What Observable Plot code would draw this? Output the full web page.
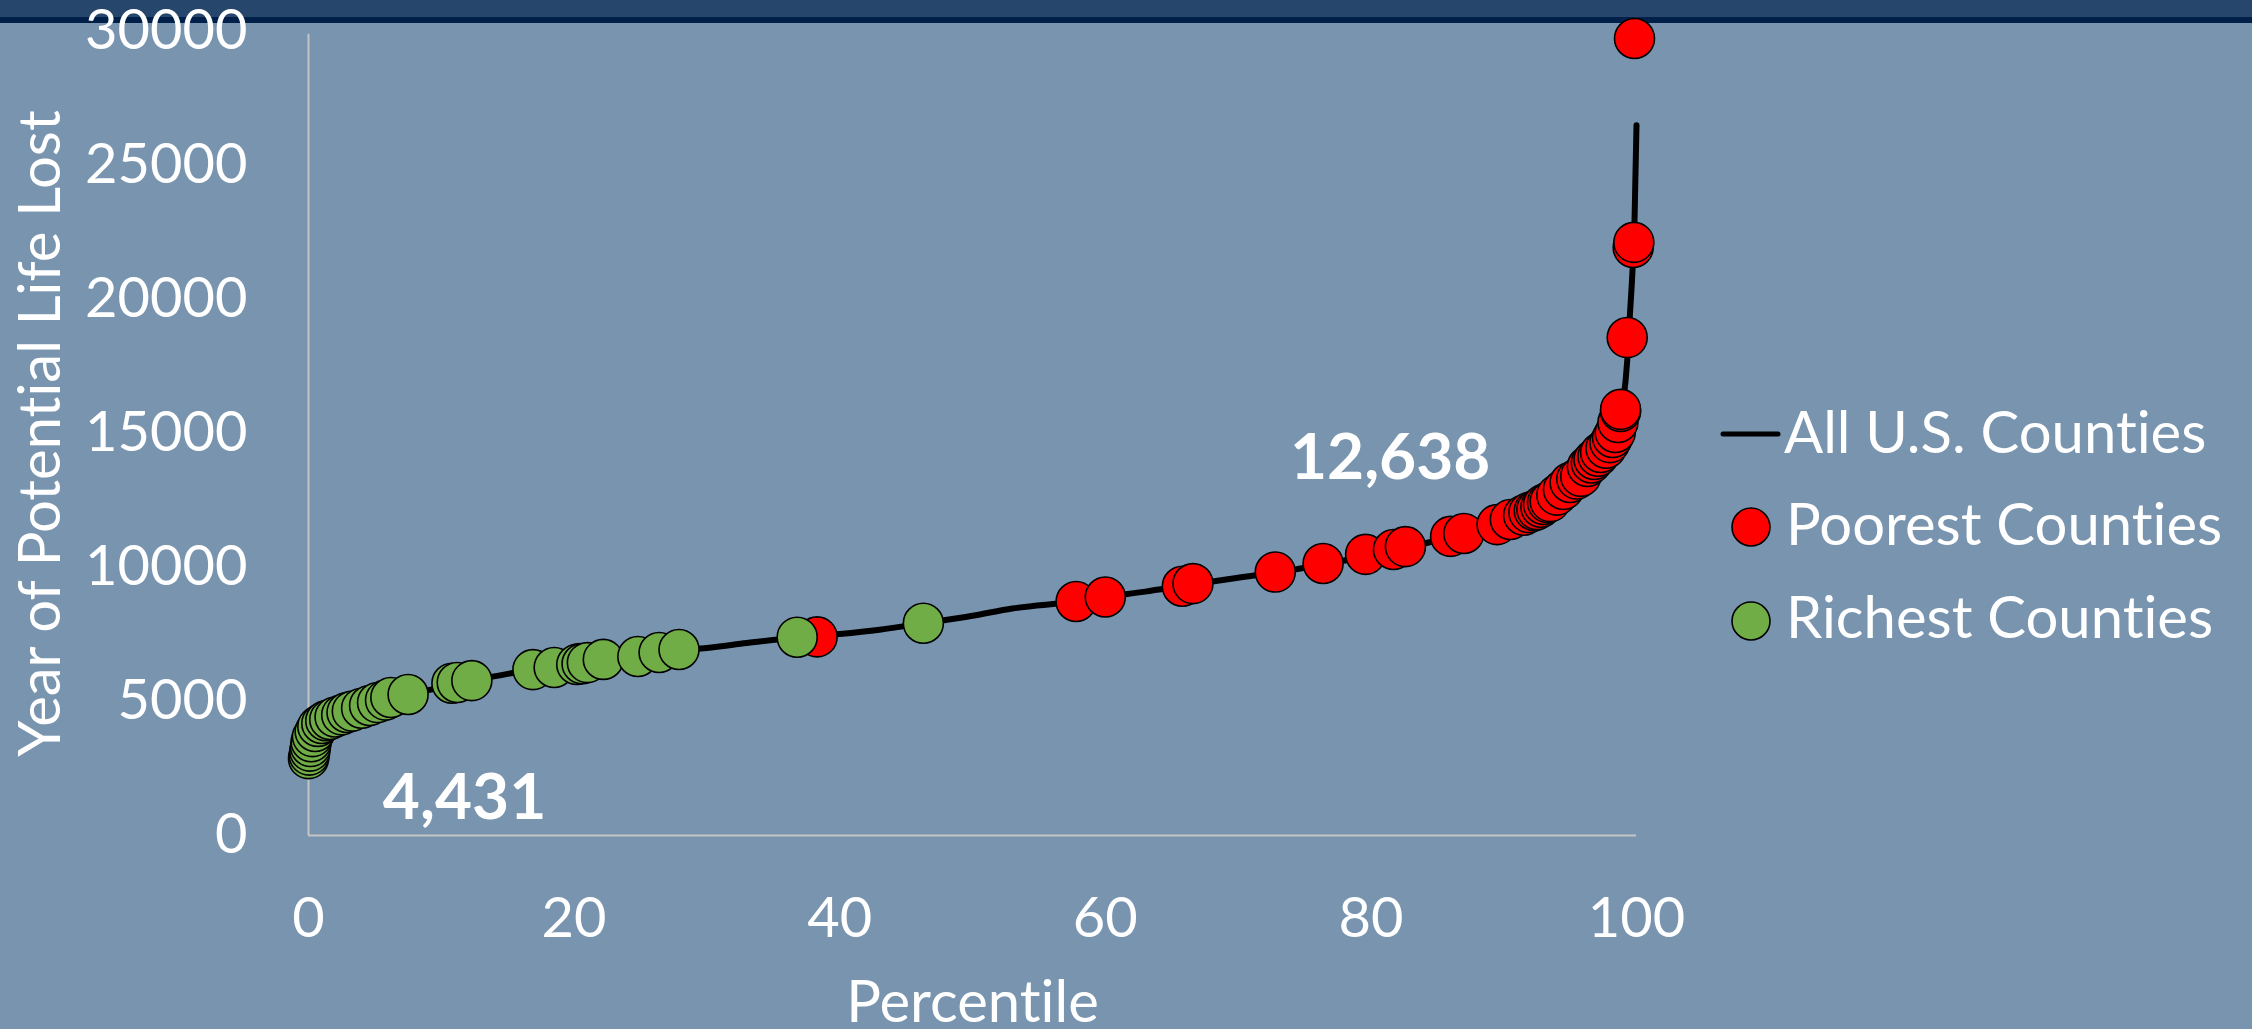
<!DOCTYPE html>
<html>
<head>
<meta charset="utf-8">
<script src="https://cdn.jsdelivr.net/npm/d3@7"></script>
<script src="https://cdn.jsdelivr.net/npm/@observablehq/plot@0.6"></script>
<style>
  html, body { margin: 0; padding: 0; }
  body {
    width: 2252px; height: 1029px; position: relative; overflow: hidden;
    background: #7894AF; font-family: Lato, "Open Sans", sans-serif;
  }
  *, svg text {
    font-variant-ligatures: none !important;
    font-feature-settings: "liga" 0, "clig" 0, "dlig" 0, "calt" 0 !important;
  }
  #band { position: absolute; left: 0; top: 0; width: 100%; height: 17px; background: #27466B; }
  #band2 { position: absolute; left: 0; top: 17px; width: 100%; height: 6px; background: #00204A; }
  #chart { position: absolute; left: 0; top: 0; }
  #legend { position: absolute; left: 1700px; top: 380px; }
</style>
</head>
<body>
<div id="band"></div>
<div id="band2"></div>
<div id="chart"></div>
<div id="legend"></div>
<script>
// Percentile curve of years of potential life lost, all U.S. counties
const linePct  = [0, 0.1, 0.3, 0.6, 1, 2, 3, 5, 7.5, 10, 12.5, 15, 17.5, 20, 22.5, 25, 27.5, 30, 33, 36.8, 40, 43, 46.3, 50, 53, 57.8, 60, 63, 66, 70, 73, 76.4, 80, 83, 86, 89, 91, 93, 94.5, 96, 97, 98, 98.6, 99, 99.3, 99.5, 99.7, 99.85, 100];
const lineYpll = [2750, 3300, 3700, 4000, 4200, 4450, 4620, 4920, 5250, 5530, 5790, 6030, 6230, 6390, 6580, 6700, 6900, 7000, 7180, 7390, 7520, 7680, 7920, 8200, 8470, 8730, 8900, 9100, 9330, 9620, 9820, 10120, 10450, 10780, 11130, 11520, 11850, 12300, 12850, 13500, 14150, 14700, 15400, 16200, 17700, 19400, 21100, 22900, 26500];

// Poorest counties
const poorPct  = [20.4, 38.3, 57.8, 60.0, 65.8, 66.6, 72.8, 76.4, 79.6, 81.7, 82.6, 86.0, 87.0, 89.5, 90.5, 91.5, 91.9, 92.3, 92.5, 92.8, 93.0, 93.3, 93.5, 94.0, 94.5, 95.0, 95.5, 95.8, 96.3, 96.6, 96.8, 97.1, 97.3, 97.7, 98.0, 98.2, 98.4, 98.6, 98.8, 98.8, 99.3, 99.75, 99.8, 99.85];
const poorYpll = [6420, 7410, 8730, 8900, 9300, 9400, 9830, 10150, 10490, 10670, 10780, 11160, 11270, 11600, 11790, 11950, 12050, 12120, 12160, 12250, 12350, 12420, 12460, 12700, 12910, 13170, 13300, 13400, 13770, 13900, 14030, 14150, 14290, 14450, 14660, 14850, 15040, 15410, 15820, 15900, 18580, 21940, 22130, 29740];

// Richest counties
const richPct  = [0, 0.05, 0.1, 0.15, 0.2, 0.3, 0.5, 0.7, 1.0, 1.3, 1.6, 2.0, 2.5, 2.9, 3.3, 4.0, 4.6, 5.2, 5.8, 6.2, 7.5, 10.8, 11.2, 12.3, 16.9, 18.5, 20.2, 20.6, 21.0, 22.2, 24.8, 26.4, 27.9, 36.8, 46.3];
const richYpll = [2870, 3000, 3150, 3320, 3500, 3690, 3880, 4070, 4180, 4280, 4330, 4420, 4500, 4590, 4640, 4750, 4850, 4960, 5050, 5150, 5260, 5680, 5710, 5780, 6190, 6270, 6380, 6410, 6450, 6570, 6680, 6830, 6940, 7400, 7920];

// Axis ticks
const xTicks = [0, 20, 40, 60, 80, 100];
const yTicks = [0, 5000, 10000, 15000, 20000, 25000, 30000];

// Group averages written on the chart
const noteLabels = ["4,431", "12,638"];
const notePct = [5.6, 73.9];
const noteYpll = [630, 13320];

// Legend entries
const legendLabels = ["All U.S. Counties", "Poorest Counties", "Richest Counties"];

const curve = linePct.map((p, i) => ({p, v: lineYpll[i]}));
const poor = poorPct.map((p, i) => ({p, v: poorYpll[i]}));
const rich = richPct.map((p, i) => ({p, v: richYpll[i]}));
const notes = noteLabels.map((t, i) => ({t, p: notePct[i], v: noteYpll[i]}));

const chart = Plot.plot({
  width: 2252,
  height: 1029,
  marginLeft: 308,
  marginRight: 616,
  marginTop: 31,
  marginBottom: 194,
  style: {background: "transparent", color: "#ffffff", fontFamily: "Lato, 'Open Sans', sans-serif", fontSize: "56px", overflow: "visible"},
  x: {domain: [0, 100]},
  y: {domain: [0, 30000]},
  marks: [
    Plot.ruleX([0], {stroke: "#c4c4c4", strokeWidth: 2, y1: 0, y2: 29900}),
    Plot.ruleY([0], {stroke: "#c4c4c4", strokeWidth: 2, x1: 0, x2: 100}),
    Plot.axisY({ticks: yTicks, tickSize: 0, tickPadding: 61, tickFormat: d => String(d), label: null, fontSize: 56}),
    Plot.axisX({ticks: xTicks, tickSize: 0, tickPadding: 62, tickFormat: d => String(d), label: null, fontSize: 56}),
    Plot.text(["Year of Potential Life Lost"], {frameAnchor: "left", dx: -267, rotate: -90, textAnchor: "middle", lineAnchor: "middle", fill: "#fff", fontSize: 58}),
    Plot.text(["Percentile"], {frameAnchor: "bottom", dy: 186, textAnchor: "middle", lineAnchor: "bottom", fill: "#fff", fontSize: 58}),
    Plot.line(curve, {x: "p", y: "v", stroke: "#000", strokeWidth: 6, curve: "monotone-x", strokeLinecap: "round", strokeLinejoin: "round"}),
    Plot.dot(poor, {x: "p", y: "v", r: 20, fill: "#FF0000", stroke: "#000", strokeWidth: 1.6}),
    Plot.dot(rich, {x: "p", y: "v", r: 20, fill: "#70AD47", stroke: "#000", strokeWidth: 1.6}),
    Plot.text(notes, {x: "p", y: "v", text: "t", textAnchor: "start", lineAnchor: "bottom", fill: "#fff", fontSize: 64, fontWeight: "bold"})
  ]
});
document.getElementById("chart").appendChild(chart);

// Legend drawn beside the plot
const lg = d3.select("#legend").append("svg")
  .attr("width", 552).attr("height", 290)
  .style("font-family", "Lato, 'Open Sans', sans-serif")
  .style("overflow", "visible");
lg.append("line").attr("x1", 23).attr("x2", 78).attr("y1", 54).attr("y2", 54)
  .attr("stroke", "#000").attr("stroke-width", 5).attr("stroke-linecap", "round");
lg.append("circle").attr("cx", 51).attr("cy", 147).attr("r", 19)
  .attr("fill", "#FF0000").attr("stroke", "#000").attr("stroke-width", 1.6);
lg.append("circle").attr("cx", 51).attr("cy", 241).attr("r", 19)
  .attr("fill", "#70AD47").attr("stroke", "#000").attr("stroke-width", 1.6);
const textX = [84, 86, 86];
const textY = [73, 165, 258];
legendLabels.forEach((t, i) => {
  lg.append("text").attr("x", textX[i]).attr("y", textY[i])
    .attr("fill", "#fff").attr("font-size", 58).text(t);
});
</script>
</body>
</html>
